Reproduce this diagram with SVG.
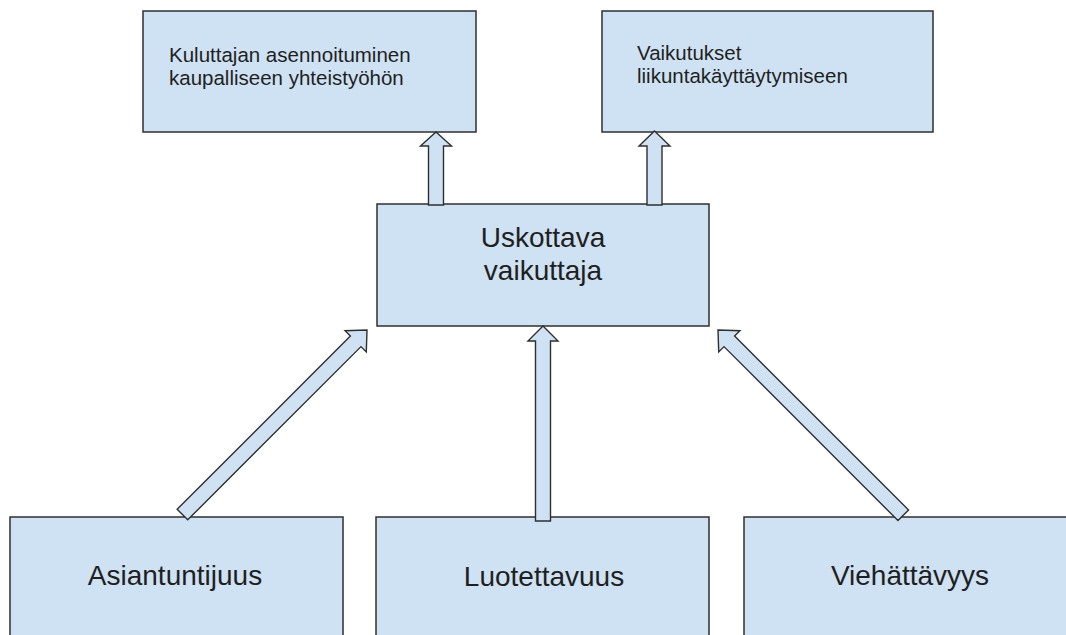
<svg xmlns="http://www.w3.org/2000/svg" width="1066" height="635" viewBox="0 0 1066 635">
<style>
.box{fill:#cfe2f3;stroke:#2f2f2f;stroke-width:1.5}
.arr{fill:#cfe2f3;stroke:#2f2f2f;stroke-width:1.4;stroke-linejoin:miter}
text{font-family:"Liberation Sans",Arial,sans-serif;fill:#1f1f1f}
.sm{font-size:20.5px}
.lg{font-size:28px;text-anchor:middle}
</style>
<rect width="1066" height="635" fill="#ffffff"/>
<g id="node-kuluttajan">
<rect class="box" x="143" y="11" width="333" height="121"/>
<text class="sm" x="169" y="62">Kuluttajan asennoituminen</text>
<text class="sm" x="169" y="85">kaupalliseen yhteistyöhön</text>
</g>
<g id="node-vaikutukset">
<rect class="box" x="602" y="11" width="331" height="121"/>
<text class="sm" x="637" y="60">Vaikutukset</text>
<text class="sm" x="637" y="83">liikuntakäyttäytymiseen</text>
</g>
<g id="node-uskottava">
<rect class="box" x="377" y="204" width="332" height="122"/>
<text class="lg" x="543" y="247">Uskottava</text>
<text class="lg" x="543" y="280">vaikuttaja</text>
</g>
<g id="node-asiantuntijuus">
<rect class="box" x="10" y="517" width="333" height="140"/>
<text class="lg" x="175" y="585">Asiantuntijuus</text>
</g>
<g id="node-luotettavuus">
<rect class="box" x="376" y="517" width="333" height="140"/>
<text class="lg" x="544" y="586">Luotettavuus</text>
</g>
<g id="node-viehattavyys">
<rect class="box" x="744" y="517" width="340" height="140"/>
<text class="lg" x="910" y="585">Viehättävyys</text>
</g>
<g id="connectors">
<polygon class="arr" transform="translate(436,132)" points="0,0 15.5,14 7.5,14 7.5,73 -7.5,73 -7.5,14 -15.5,14"/>
<polygon class="arr" transform="translate(654.5,131)" points="0,0 15.5,15 7.5,15 7.5,74 -7.5,74 -7.5,15 -15.5,15"/>
<polygon class="arr" transform="translate(543,326)" points="0,0 15,15 7.5,15 7.5,195 -7.5,195 -7.5,15 -15,15"/>
<polygon class="arr" transform="translate(367,330) rotate(45)" points="0,0 15,16 7.5,16 7.5,261 -7.5,261 -7.5,16 -15,16"/>
<polygon class="arr" transform="translate(718,330) rotate(-45)" points="0,0 15,16 7.5,16 7.5,262 -7.5,262 -7.5,16 -15,16"/>
</g>
</svg>
